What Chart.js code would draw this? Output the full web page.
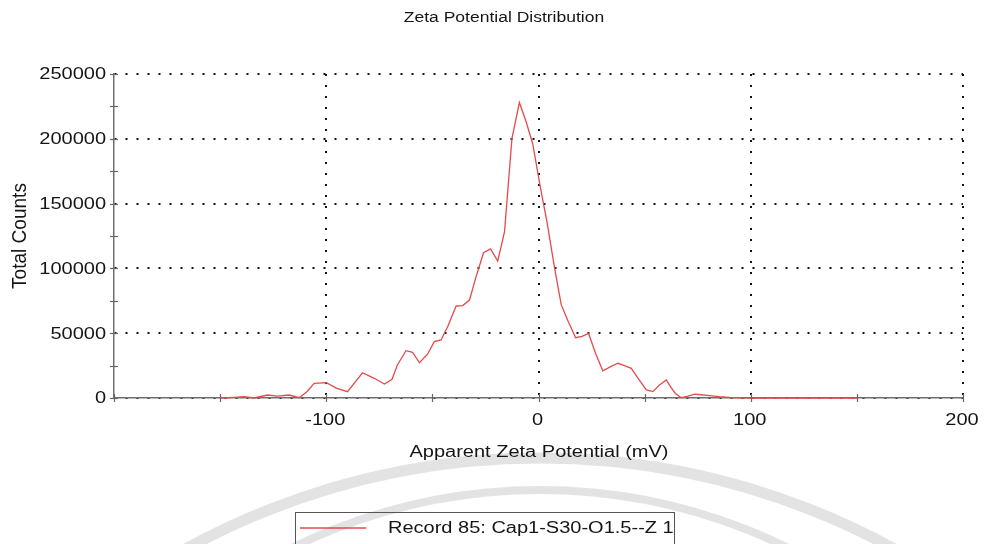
<!DOCTYPE html>
<html>
<head>
<meta charset="utf-8">
<script src="https://cdn.jsdelivr.net/npm/chart.js@4.4.1/dist/chart.umd.min.js"></script>
<style>
  html, body { margin: 0; padding: 0; background: #fff; }
  #wrap { width: 987px; height: 544px; position: relative; }
</style>
</head>
<body>
<div id="wrap"><canvas id="zeta"></canvas></div>
<script>
// zeta potential (mV) and total counts at each vertex of the trace
const zetaMv = [
  -150, -143.4, -138.7, -134, -127.7, -123, -117.5, -112.7, -109, -105.7,
  -100, -95, -90, -82.9, -77.4, -72.6, -69, -66.5, -62.4, -59.3,
  -56.1, -52.2, -49.1, -45.9, -42.8, -38.8, -35.7, -32.5, -29.4, -25.9,
  -22.6, -19.2, -16, -12.5, -9, -5.8, -2.7, 0.5, 4.2, 7.5,
  10.7, 14, 17.5, 20.5, 23.6, 27, 30.3, 33.8, 37.4, 40.5,
  43.7, 47, 50.8, 53.9, 57, 60.2, 62.5, 64.5, 67.3, 70.5,
  73.6, 76.5, 79.5, 85, 90, 100, 150
];
const totalCounts = [
  0, 500, 1000, 0, 2300, 1500, 2300, 200, 5000, 11300,
  11800, 7500, 4900, 19500, 15200, 10800, 14400, 25500, 36500, 35200,
  27200, 34000, 43500, 44800, 55000, 71000, 71300, 75600, 93600, 112100,
  115000, 105700, 128300, 200400, 228000, 213000, 196000, 166000, 134000, 101000,
  72000, 59000, 46500, 47500, 49800, 34000, 21000, 24000, 26800, 25000,
  22900, 15000, 6200, 4900, 10000, 13900, 8000, 3500, 200, 1500,
  3000, 2500, 2000, 1000, 400, 0, 0
];
const xTickLabels = [-100, 0, 100, 200];
const yTickLabels = [0, 50000, 100000, 150000, 200000, 250000];
const recordName = 'Record 85: Cap1-S30-O1.5--Z 1';

const FONT = '"Liberation Sans", Arial, sans-serif';
const TEXT = '#151515';
const WIDE = 1.25; // text in this export is drawn wider than tall

const points = zetaMv.map((x, i) => ({ x: x, y: totalCounts[i] }));

function wideText(ctx, text, x, y, align, size) {
  ctx.save();
  ctx.translate(x, y);
  ctx.scale(WIDE, 1);
  ctx.font = size + 'px ' + FONT;
  ctx.textAlign = align;
  ctx.textBaseline = 'middle';
  ctx.fillText(text, 0, 0);
  ctx.restore();
}

// faint circular watermark behind everything
const watermark = {
  id: 'watermark',
  beforeDraw(chart) {
    const ctx = chart.ctx;
    ctx.save();
    ctx.strokeStyle = 'rgba(200,200,200,0.5)';
    ctx.lineWidth = 11;
    ctx.beginPath();
    ctx.arc(540, 1193, 735, Math.PI, 2 * Math.PI);
    ctx.stroke();
    ctx.lineWidth = 8;
    ctx.beginPath();
    ctx.arc(540, 1050, 560, Math.PI, 2 * Math.PI);
    ctx.stroke();
    ctx.restore();
  }
};

// titles, tick labels, tick marks and the boxed legend
const decorations = {
  id: 'decorations',
  afterDraw(chart) {
    const ctx = chart.ctx;
    const xs = chart.scales.x, ys = chart.scales.y;
    const area = chart.chartArea;
    ctx.save();

    ctx.strokeStyle = '#666';
    ctx.lineWidth = 1.2;
    for (let v = -200; v <= 200; v += 50) {
      const px = Math.round(xs.getPixelForValue(v)) + 0.5;
      ctx.beginPath();
      ctx.moveTo(px, area.bottom - 4);
      ctx.lineTo(px, area.bottom + 4);
      ctx.stroke();
    }
    for (let v = 0; v <= 250000; v += 25000) {
      const py = Math.round(ys.getPixelForValue(v)) + 0.5;
      ctx.beginPath();
      ctx.moveTo(area.left - 4, py);
      ctx.lineTo(area.left + 4, py);
      ctx.stroke();
    }

    ctx.fillStyle = TEXT;
    yTickLabels.forEach(v => wideText(ctx, String(v), area.left - 8, ys.getPixelForValue(v) + 1, 'right', 16));
    xTickLabels.forEach(v => wideText(ctx, String(v), xs.getPixelForValue(v) - 1, area.bottom + 23, 'center', 16));

    wideText(ctx, 'Zeta Potential Distribution', 504, 18, 'center', 14);
    wideText(ctx, 'Apparent Zeta Potential (mV)', 539, 453, 'center', 16);

    ctx.save();
    ctx.translate(20, (area.top + area.bottom) / 2);
    ctx.scale(WIDE, 1.19);
    ctx.rotate(-Math.PI / 2);
    ctx.font = '16px ' + FONT;
    ctx.textAlign = 'center';
    ctx.textBaseline = 'middle';
    ctx.fillText('Total Counts', 0, 0);
    ctx.restore();

    // legend
    ctx.strokeStyle = '#555';
    ctx.lineWidth = 1;
    ctx.strokeRect(295.5, 512.5, 379, 34);
    ctx.strokeStyle = chart.data.datasets[0].borderColor;
    ctx.lineWidth = 1.3;
    ctx.beginPath();
    ctx.moveTo(300, 528);
    ctx.lineTo(366, 528);
    ctx.stroke();
    wideText(ctx, recordName, 388, 529, 'left', 16);

    ctx.restore();
  }
};

new Chart(document.getElementById('zeta'), {
  type: 'line',
  data: {
    datasets: [{
      label: recordName,
      data: points,
      borderColor: '#e54b4b',
      borderWidth: 1.3,
      pointRadius: 0,
      tension: 0,
      fill: false,
      clip: 3
    }]
  },
  options: {
    responsive: true,
    maintainAspectRatio: false,
    animation: false,
    layout: { padding: { top: 74, right: 24, left: 0, bottom: 0 } },
    plugins: { legend: { display: false }, tooltip: { enabled: false }, title: { display: false } },
    scales: {
      x: {
        type: 'linear',
        min: -200,
        max: 200,
        afterFit(scale) { scale.height = 146; },
        afterBuildTicks(scale) { scale.ticks = xTickLabels.map(v => ({ value: v })); },
        ticks: { display: false },
        grid: { drawTicks: false, color: '#111', lineWidth: 2 },
        border: { display: true, color: '#6f6f6f', width: 1.5, dash: [2, 9] }
      },
      y: {
        min: 0,
        max: 250000,
        afterFit(scale) { scale.width = 114; },
        afterBuildTicks(scale) { scale.ticks = yTickLabels.map(v => ({ value: v })); },
        ticks: { display: false },
        grid: { drawTicks: false, color: '#111', lineWidth: 2 },
        border: { display: true, color: '#6f6f6f', width: 1.5, dash: [2, 9] }
      }
    }
  },
  plugins: [watermark, decorations]
});
</script>
</body>
</html>
